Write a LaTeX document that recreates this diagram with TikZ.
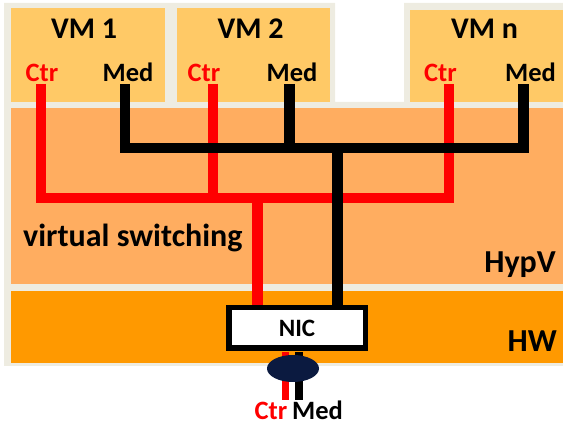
\documentclass[tikz,border=0pt]{standalone}
\usepackage{fontspec}
\setmainfont{Carlito}
\usetikzlibrary{shapes.geometric}
\definecolor{creamc}{HTML}{EEECE1}
\definecolor{vmc}{HTML}{FFC966}
\definecolor{hypc}{HTML}{FFAD60}
\definecolor{hwc}{HTML}{FF9900}
\definecolor{navyc}{HTML}{0B1A40}
\definecolor{redc}{HTML}{FF0000}
\tikzset{
  wire/.style={line width=10.5pt, line join=miter},
  thinwire/.style={line width=7.5pt},
  vmlabel/.style={font=\fontsize{30}{36}\selectfont\bfseries, anchor=base, inner sep=0pt},
  portlabel/.style={font=\fontsize{26.5}{30}\selectfont\bfseries, anchor=base, inner sep=0pt},
  layerlabel/.style={font=\fontsize{32}{38}\selectfont\bfseries, inner sep=0pt},
  nicbox/.style={draw=black, line width=5.5pt, fill=white, minimum width=136.5pt, minimum height=40.5pt, inner sep=0pt, font=\fontsize{25}{29}\selectfont\bfseries},
  plug/.style={ellipse, fill=navyc, minimum width=52pt, minimum height=27pt, inner sep=0pt}
}
\begin{document}
\begin{tikzpicture}[x=1pt,y=-1pt]
\useasboundingbox (0,0) rectangle (563,427);
% background panels
\fill[creamc] (4,3) -- (335,3) -- (335,102) -- (404,102) -- (404,3) -- (563,3) -- (563,366) -- (4,366) -- cycle;
\fill[vmc] (11,8) rectangle (165,102);
\fill[vmc] (177,8) rectangle (330,102);
\fill[vmc] (410,10) rectangle (563,102);
\fill[hypc] (11,108) rectangle (563,284);
\fill[hwc] (11,291) rectangle (563,363);
% labels
\node[vmlabel] (vm1) at (84,39) {VM 1};
\node[vmlabel] (vm2) at (250.5,39) {VM 2};
\node[vmlabel] (vmn) at (484.5,39) {VM n};
\node[portlabel, text=redc] (c1) at (42,82) {Ctr};
\node[portlabel] (m1) at (128,82) {Med};
\node[portlabel, text=redc] (c2) at (204,82) {Ctr};
\node[portlabel] (m2) at (292,82) {Med};
\node[portlabel, text=redc] (cn) at (440.5,82) {Ctr};
\node[portlabel] (mn) at (530.5,82) {Med};
\node[layerlabel, anchor=base west] (vs) at (23,247) {virtual switching};
\node[layerlabel, anchor=base east] (hyp) at (556,273) {HypV};
\node[layerlabel, anchor=base east] (hw) at (557,352) {HW};
% port coordinates
\coordinate (pc1) at (41,84);
\coordinate (pm1) at (125,84);
\coordinate (pc2) at (213,84);
\coordinate (pm2) at (289.5,84);
\coordinate (pcn) at (449,84);
\coordinate (pmn) at (523.5,84);
\coordinate (rj) at (257.5,198);
\coordinate (bj) at (337.5,148);
% NIC
\node[nicbox] (nic) at (297,328) {NIC};
\coordinate (nicr) at (257.5,306);
\coordinate (nicb) at (337.5,306);
\coordinate (ored) at (285.5,352);
\coordinate (oblk) at (299,352);
\coordinate (ered) at (285.5,400);
\coordinate (eblk) at (299,400);
% red control wires
\draw[wire, redc] (pc1) -- (pc1 |- rj) -- (pcn |- rj) -- (pcn);
\draw[wire, redc] (pc2) -- (pc2 |- rj);
\draw[wire, redc] (rj) -- (nicr);
% black media wires
\draw[wire, black] (pm1) -- (pm1 |- bj) -- (pmn |- bj) -- (pmn);
\draw[wire, black] (pm2) -- (pm2 |- bj);
\draw[wire, black] (bj) -- (nicb);
% outgoing wires
\draw[thinwire, redc] (ored) -- (ered);
\draw[thinwire, black] (oblk) -- (eblk);
% redraw NIC on top
\node[nicbox] at (nic) {NIC};
\node[plug] (plugn) at (293,368.5) {};
\node[portlabel, text=redc, anchor=base east] (cb) at (287.5,420) {Ctr};
\node[portlabel, anchor=base west] (mb) at (292,420) {Med};
\end{tikzpicture}
\end{document}
